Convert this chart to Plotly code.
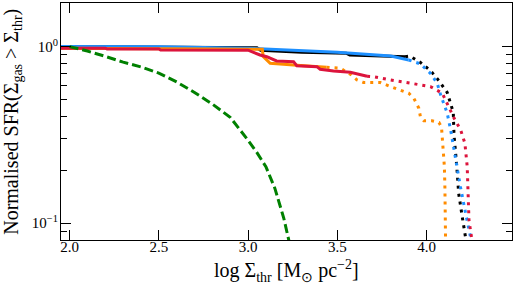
import plotly.graph_objects as go

# ---- data ----
black_solid_x = [1.95, 2.5, 3.05, 3.07, 3.3, 3.55, 3.57, 3.88]
black_solid_y = [1.0, 0.995, 0.985, 0.955, 0.93, 0.918, 0.897, 0.877]
black_dot_x = [3.88, 3.906, 3.966, 4.022, 4.07, 4.116, 4.15, 4.154, 4.169, 4.18, 4.2, 4.219, 4.225]
black_dot_y = [0.877, 0.885, 0.813, 0.731, 0.64, 0.55, 0.424, 0.316, 0.214, 0.148, 0.109, 0.084, 0.076]

blue_solid_x = [1.95, 2.5, 3.0, 3.5, 3.8, 3.9]
blue_solid_y = [1.0, 0.997, 0.98, 0.928, 0.885, 0.84]
blue_dot_x = [3.9, 3.966, 4.022, 4.06, 4.079, 4.116, 4.135, 4.163, 4.19, 4.219, 4.247, 4.255]
blue_dot_y = [0.84, 0.798, 0.706, 0.62, 0.533, 0.42, 0.338, 0.228, 0.161, 0.114, 0.084, 0.076]

orange_solid_x = [1.95, 3.08, 3.085, 3.124, 3.255, 3.386, 3.44]
orange_solid_y = [0.98, 0.965, 0.88, 0.805, 0.787, 0.77, 0.765]
orange_dot_x = [3.44, 3.517, 3.58, 3.61, 3.648, 3.742, 3.798, 3.835, 3.9, 3.929, 3.957,
                3.966, 3.985, 4.03, 4.07, 4.084, 4.088, 4.093, 4.1, 4.103, 4.105, 4.107]
orange_dot_y = [0.765, 0.755, 0.69, 0.648, 0.626, 0.626, 0.594, 0.574, 0.545, 0.51, 0.448,
                0.40, 0.38, 0.38, 0.372, 0.35, 0.316, 0.26, 0.21, 0.161, 0.119, 0.076]

red_solid_x = [1.95, 2.2, 2.21, 2.5, 2.51, 3.0, 3.067, 3.105, 3.16, 3.255, 3.273,
               3.386, 3.404, 3.479, 3.573, 3.63, 3.667]
red_solid_y = [0.98, 0.98, 0.97, 0.97, 0.957, 0.955, 0.897, 0.877, 0.83, 0.822, 0.78,
               0.77, 0.745, 0.728, 0.716, 0.69, 0.68]
red_dot_x = [3.667, 3.704, 3.78, 3.863, 3.948, 4.022, 4.088, 4.125, 4.154, 4.191, 4.215,
             4.228, 4.232, 4.238, 4.257]
red_dot_y = [0.68, 0.676, 0.653, 0.634, 0.612, 0.594, 0.545, 0.457, 0.394, 0.338, 0.284,
             0.21, 0.155, 0.104, 0.077]

green_x = [2.0, 2.1, 2.2, 2.3, 2.4, 2.5, 2.6, 2.7, 2.8, 2.9, 3.0, 3.05, 3.1, 3.15, 3.2, 3.235]
green_y = [1.0, 0.944, 0.881, 0.817, 0.767, 0.708, 0.631, 0.55, 0.473, 0.398, 0.295,
           0.251, 0.209, 0.158, 0.107, 0.075]

x_tickvals = [2.0, 2.5, 3.0, 3.5, 4.0]
x_ticktext = ["2.0", "2.5", "3.0", "3.5", "4.0"]
y_tickvals = [0.1, 1.0]
y_ticktext = ["10<sup>−1</sup>", "10<sup>0</sup>"]
y_minor_vals = [0.08, 0.09, 0.2, 0.3, 0.4, 0.5, 0.6, 0.7, 0.8, 0.9]
x_title = "log Σ<sub>thr</sub> [M<sub>⊙</sub> pc<sup>−2</sup>]"
y_title = "Normalised SFR(Σ<sub>gas</sub> > Σ<sub>thr</sub>)"

BLACK = "#000000"
BLUE = "#1E90FF"
ORANGE = "#FF8C00"
RED = "#DC143C"
GREEN = "#008000"
DOT = "3px,5px"

fig = go.Figure()

def add(x, y, color, dash, width=3):
    fig.add_trace(go.Scatter(x=x, y=y, mode="lines",
                             line=dict(color=color, width=width, dash=dash),
                             showlegend=False, hoverinfo="skip"))

add(black_solid_x, black_solid_y, BLACK, "solid")
add(black_dot_x, black_dot_y, BLACK, DOT)
add(blue_solid_x, blue_solid_y, BLUE, "solid")
add(blue_dot_x, blue_dot_y, BLUE, DOT)
add(orange_solid_x, orange_solid_y, ORANGE, "solid")
add(orange_dot_x, orange_dot_y, ORANGE, DOT)
add(red_solid_x, red_solid_y, RED, "solid")
add(red_dot_x, red_dot_y, RED, DOT)
add(green_x, green_y, GREEN, "9px,4px")

FONT = "Liberation Serif"
axis_common = dict(showline=True, linecolor="black", linewidth=1.2, mirror="allticks",
                   ticks="inside", ticklen=10, tickwidth=1, tickcolor="black",
                   showgrid=False, zeroline=False, automargin=False,
                   tickfont=dict(size=15))

fig.update_layout(
    width=525, height=285,
    margin=dict(l=61, r=13, t=3, b=45),
    paper_bgcolor="white", plot_bgcolor="white",
    font=dict(family=FONT, size=15, color="black"),
    xaxis=dict(range=[1.952, 4.479], tickvals=x_tickvals, ticktext=x_ticktext,
               ticklabelstandoff=-7, **axis_common),
    yaxis=dict(type="log", range=[-1.095, 0.247], tickvals=y_tickvals, ticktext=y_ticktext,
               minor=dict(tickvals=y_minor_vals, ticks="inside", ticklen=6, tickwidth=1,
                          tickcolor="black"),
               ticklabelstandoff=-1, **axis_common),
    annotations=[
        dict(text=x_title, xref="paper", yref="paper", x=0.5, y=-0.131,
             xanchor="center", yanchor="middle", showarrow=False, font=dict(size=20)),
        dict(text=y_title, xref="paper", yref="paper", x=-0.108, y=0.5, textangle=-90,
             xanchor="center", yanchor="middle", showarrow=False, font=dict(size=20)),
    ],
)

fig.write_html("out.html", post_script="document.body.style.margin='0';",
               config={"displayModeBar": False})
